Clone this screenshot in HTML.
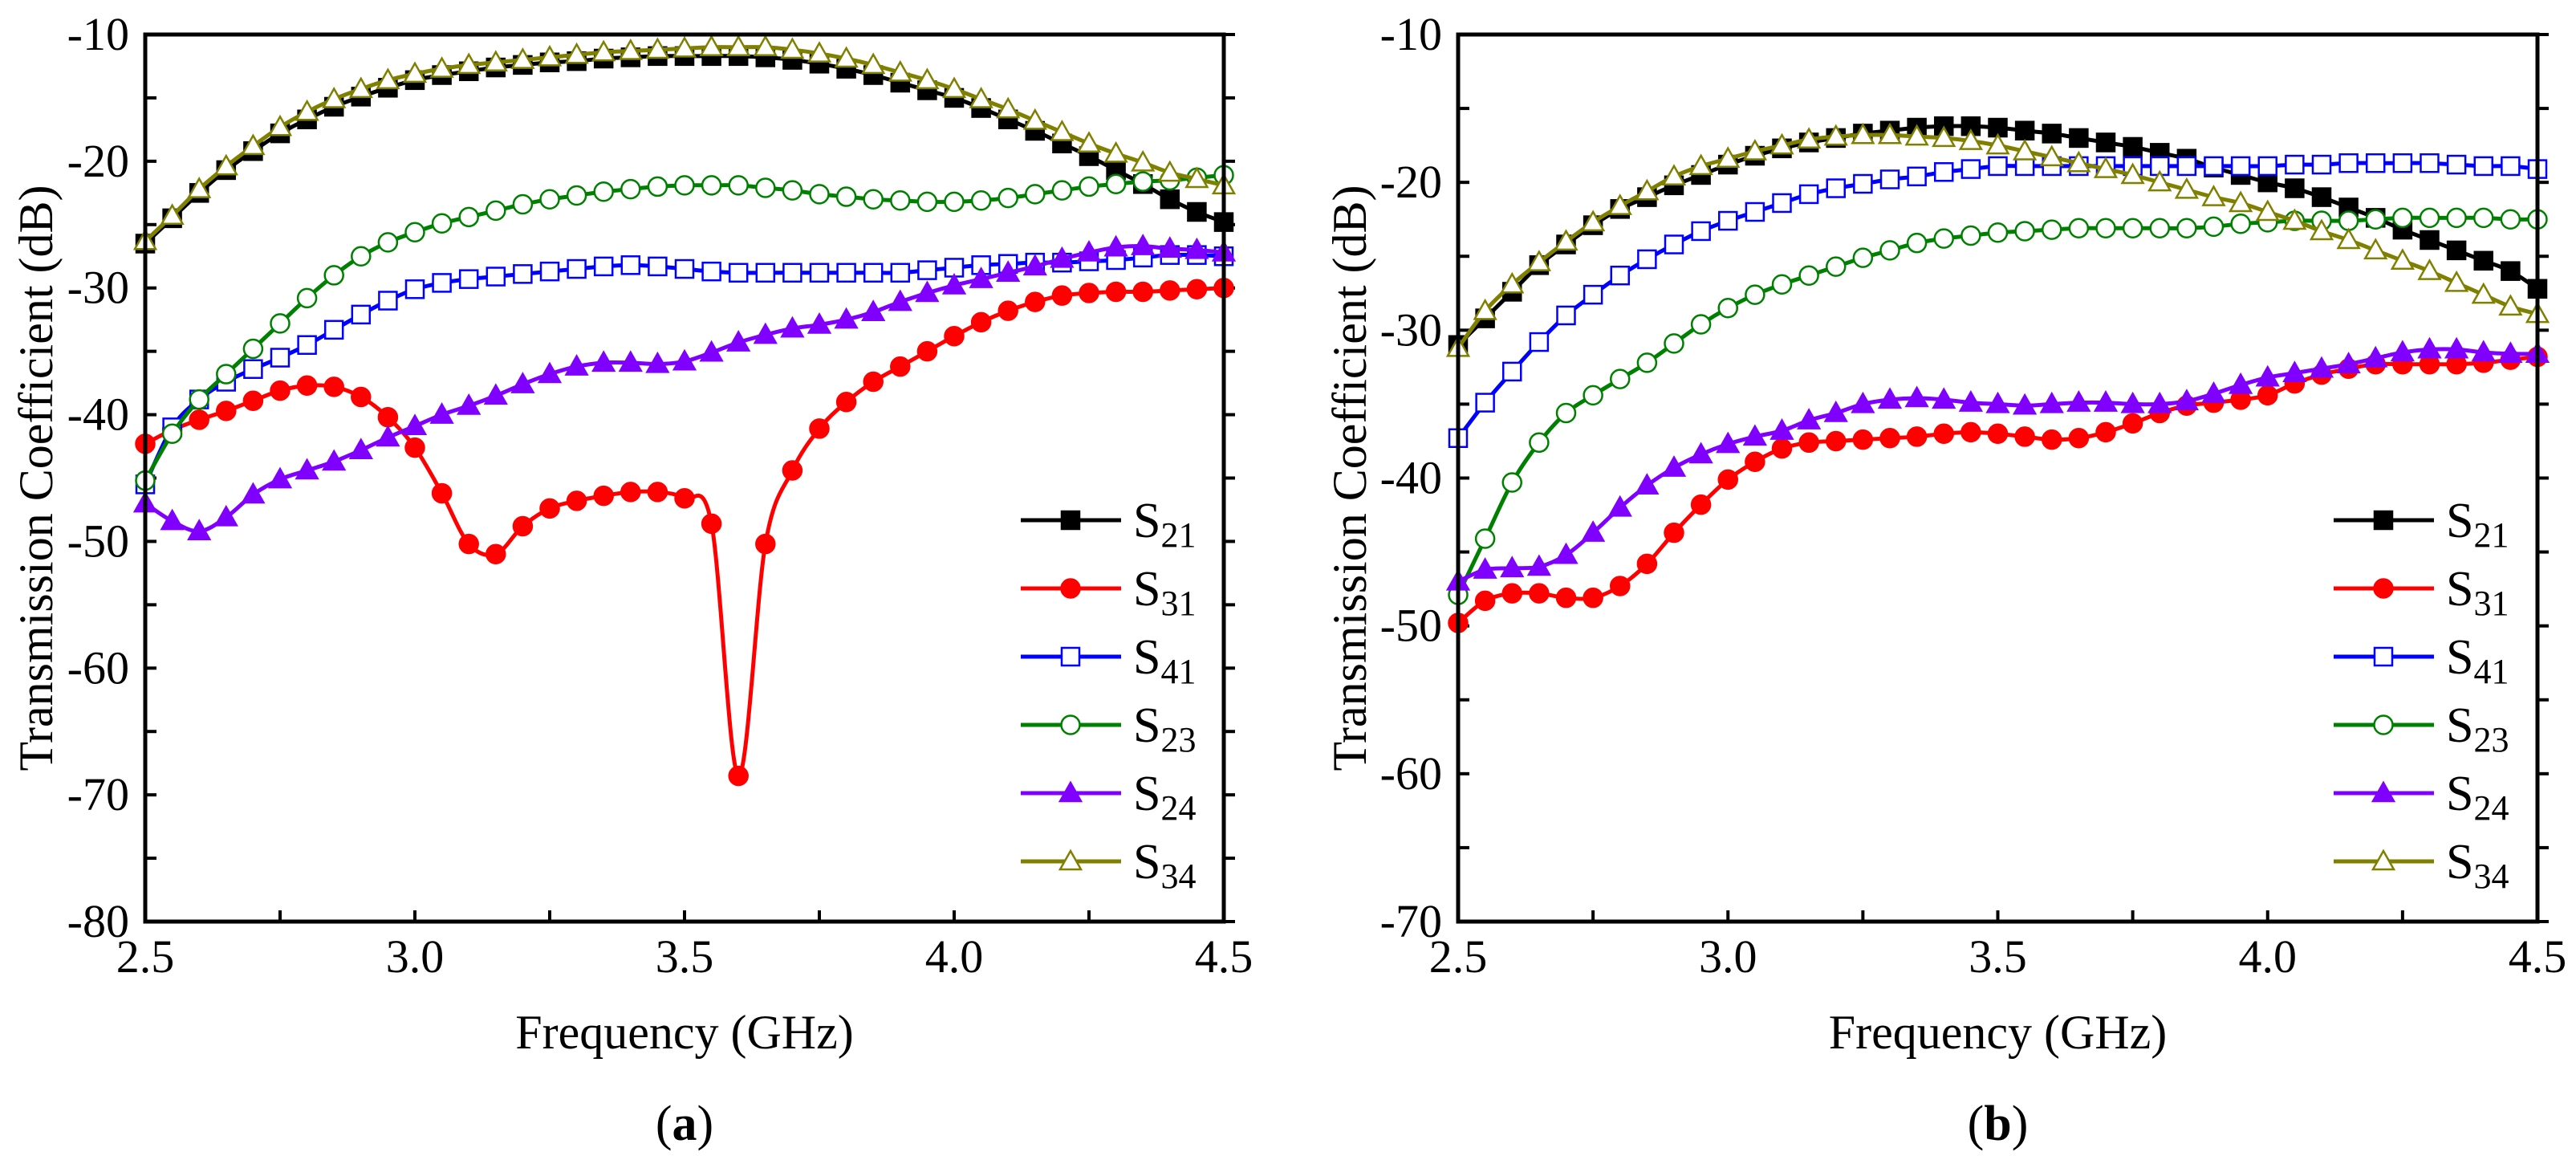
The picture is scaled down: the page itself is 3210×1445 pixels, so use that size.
<!DOCTYPE html>
<html><head><meta charset="utf-8"><style>
html,body{margin:0;padding:0;background:#fff;}
svg{display:block;}
svg text{font-family:"Liberation Serif","Times New Roman",serif;}
</style></head><body>
<svg id="fig" width="3210" height="1445" viewBox="0 0 3210 1445" xmlns="http://www.w3.org/2000/svg" font-family="Liberation Serif, serif"></svg>
<script>
const freqs = [];
for (let i = 0; i <= 40; i++) freqs.push(+(2.5 + i * 0.05).toFixed(2));
const seriesNames = ["S21","S31","S41","S23","S24","S34"];
const xTicks = [2.5,3.0,3.5,4.0,4.5];
const xTickLabels = ["2.5","3.0","3.5","4.0","4.5"];
const yTicksA = [-10,-20,-30,-40,-50,-60,-70,-80];
const yTicksB = [-10,-20,-30,-40,-50,-60,-70];

const a_S21 = [-26.5,-24.5,-22.5,-20.7,-19.2,-17.8,-16.7,-15.7,-14.9,-14.2,-13.6,-13.2,-12.9,-12.6,-12.4,-12.2,-12.1,-11.9,-11.8,-11.7,-11.7,-11.7,-11.7,-11.8,-12.0,-12.3,-12.7,-13.2,-13.8,-14.4,-15.0,-15.8,-16.7,-17.6,-18.6,-19.6,-20.7,-21.8,-23.0,-24.0,-24.8];
const a_S31 = [-42.3,-41.2,-40.4,-39.7,-38.9,-38.1,-37.7,-37.8,-38.6,-40.2,-42.6,-46.2,-50.2,-51.0,-48.8,-47.4,-46.8,-46.4,-46.1,-46.1,-46.6,-48.6,-68.5,-50.2,-44.4,-41.1,-39.0,-37.4,-36.2,-35.0,-33.8,-32.7,-31.8,-31.1,-30.6,-30.4,-30.3,-30.3,-30.2,-30.1,-30.0];
const a_S41 = [-45.5,-41.0,-38.8,-37.4,-36.4,-35.5,-34.5,-33.3,-32.1,-31.0,-30.1,-29.6,-29.3,-29.1,-28.9,-28.7,-28.5,-28.3,-28.2,-28.3,-28.5,-28.7,-28.8,-28.8,-28.8,-28.8,-28.8,-28.8,-28.8,-28.6,-28.4,-28.2,-28.1,-28.0,-28.0,-27.9,-27.8,-27.6,-27.4,-27.4,-27.5];
const a_S23 = [-45.2,-41.5,-38.8,-36.8,-34.8,-32.8,-30.8,-29.0,-27.5,-26.4,-25.6,-24.9,-24.4,-23.9,-23.4,-23.0,-22.7,-22.4,-22.2,-22.0,-21.9,-21.9,-21.9,-22.1,-22.3,-22.6,-22.8,-23.0,-23.1,-23.2,-23.2,-23.1,-22.9,-22.6,-22.3,-22.0,-21.8,-21.6,-21.5,-21.3,-21.1];
const a_S24 = [-47.0,-48.4,-49.2,-48.1,-46.3,-45.1,-44.4,-43.7,-42.8,-41.8,-40.9,-40.0,-39.3,-38.5,-37.6,-36.8,-36.2,-35.9,-35.9,-36.0,-35.8,-35.1,-34.3,-33.7,-33.2,-32.9,-32.5,-31.9,-31.1,-30.4,-29.8,-29.3,-28.8,-28.3,-27.7,-27.2,-26.8,-26.7,-26.9,-27.0,-27.2];
const a_S34 = [-26.3,-24.3,-22.2,-20.4,-18.8,-17.3,-16.1,-15.1,-14.3,-13.6,-13.1,-12.7,-12.4,-12.2,-12.0,-11.8,-11.6,-11.4,-11.3,-11.2,-11.1,-11.0,-11.0,-11.0,-11.2,-11.5,-11.9,-12.4,-13.0,-13.6,-14.3,-15.1,-15.9,-16.8,-17.7,-18.6,-19.4,-20.1,-20.9,-21.4,-21.9];

const b_S21 = [-31.0,-29.2,-27.4,-25.6,-24.2,-22.9,-21.8,-21.0,-20.2,-19.5,-18.8,-18.2,-17.7,-17.3,-17.0,-16.7,-16.5,-16.3,-16.2,-16.2,-16.3,-16.5,-16.7,-17.0,-17.3,-17.6,-18.0,-18.4,-19.0,-19.5,-20.0,-20.4,-21.0,-21.7,-22.4,-23.2,-23.9,-24.6,-25.3,-26.0,-27.2];
const b_S31 = [-49.8,-48.3,-47.8,-47.8,-48.1,-48.1,-47.3,-45.8,-43.7,-41.8,-40.1,-38.9,-38.0,-37.6,-37.5,-37.4,-37.3,-37.2,-37.0,-36.9,-37.0,-37.2,-37.4,-37.3,-36.9,-36.3,-35.6,-35.1,-34.9,-34.7,-34.4,-33.6,-33.0,-32.6,-32.3,-32.3,-32.3,-32.3,-32.2,-32.0,-31.8];
const b_S41 = [-37.3,-34.9,-32.8,-30.8,-29.0,-27.6,-26.3,-25.2,-24.2,-23.3,-22.6,-22.0,-21.4,-20.8,-20.4,-20.1,-19.8,-19.6,-19.3,-19.1,-18.9,-18.9,-18.9,-18.9,-18.9,-18.9,-18.9,-18.9,-18.9,-18.9,-18.9,-18.8,-18.8,-18.7,-18.7,-18.7,-18.7,-18.8,-18.9,-18.9,-19.1];
const b_S23 = [-47.9,-44.1,-40.3,-37.6,-35.6,-34.4,-33.3,-32.2,-30.9,-29.6,-28.5,-27.6,-26.9,-26.3,-25.7,-25.1,-24.6,-24.1,-23.8,-23.6,-23.4,-23.3,-23.2,-23.1,-23.1,-23.1,-23.1,-23.1,-23.0,-22.8,-22.7,-22.6,-22.6,-22.6,-22.5,-22.4,-22.4,-22.4,-22.4,-22.5,-22.5];
const b_S24 = [-47.0,-46.2,-46.1,-46.0,-45.2,-43.7,-42.0,-40.5,-39.3,-38.4,-37.7,-37.2,-36.8,-36.1,-35.6,-35.0,-34.7,-34.6,-34.7,-34.9,-35.0,-35.1,-35.0,-34.9,-34.9,-35.0,-35.0,-34.8,-34.3,-33.7,-33.2,-32.9,-32.6,-32.3,-31.9,-31.5,-31.3,-31.3,-31.5,-31.6,-31.6];
const b_S34 = [-31.2,-28.7,-26.9,-25.4,-24.0,-22.7,-21.6,-20.6,-19.6,-18.9,-18.4,-17.9,-17.5,-17.1,-16.9,-16.8,-16.8,-16.9,-17.0,-17.2,-17.5,-17.9,-18.3,-18.7,-19.1,-19.5,-20.0,-20.5,-21.0,-21.4,-22.0,-22.6,-23.3,-23.9,-24.6,-25.3,-26.0,-26.8,-27.6,-28.4,-28.9];

const NS = "http://www.w3.org/2000/svg";
const svg = document.getElementById("fig");
const FONT = "Liberation Serif, Times New Roman, serif";
const styles = [
 {c:"#000000", m:"square", fill:true},
 {c:"#ff0000", m:"circle", fill:true},
 {c:"#0000ff", m:"square", fill:false},
 {c:"#008000", m:"circle", fill:false},
 {c:"#8000ff", m:"tri", fill:true},
 {c:"#808000", m:"tri", fill:false}
];
function el(tag, attrs, parent){
  const e = document.createElementNS(NS, tag);
  for (const k in attrs) e.setAttribute(k, attrs[k]);
  if (tag === "text") e.setAttribute("font-family", FONT);
  (parent||svg).appendChild(e);
  return e;
}
function marker(g, m, x, y, st){
  let e;
  const fill = st.fill ? st.c : "#fff";
  if (m==="square") e = el("rect",{x:x-11,y:y-11,width:22,height:22,fill:fill,stroke:st.c,"stroke-width":2.5},g);
  else if (m==="circle") e = el("circle",{cx:x,cy:y,r:11.5,fill:fill,stroke:st.c,"stroke-width":2.5},g);
  else e = el("polygon",{points:`${x},${y-13} ${x+13},${y+10} ${x-13},${y+10}`,fill:fill,stroke:st.c,"stroke-width":2.5},g);
  return e;
}
function smoothPath(pts){
  let d = `M${pts[0][0]},${pts[0][1]}`;
  for (let i=0;i<pts.length-1;i++){
    const p0=pts[Math.max(0,i-1)],p1=pts[i],p2=pts[i+1],p3=pts[Math.min(pts.length-1,i+2)];
    const c1x=p1[0]+(p2[0]-p0[0])/6,c1y=p1[1]+(p2[1]-p0[1])/6;
    const c2x=p2[0]-(p3[0]-p1[0])/6,c2y=p2[1]-(p3[1]-p1[1])/6;
    d+=` C${c1x},${c1y} ${c2x},${c2y} ${p2[0]},${p2[1]}`;
  }
  return d;
}
function panel(cfg){
  const {x0,x1,y0,y1,ymax,ymin,yTicks,data,tag,caption,legX} = cfg;
  const X = f => x0 + (f-2.5)/(4.5-2.5)*(x1-x0);
  const Y = v => y0 + (ymax-v)/(ymax-ymin)*(y1-y0);
  const g = el("g",{});
  
  
  for (let v=ymax; v>=ymin; v-=5){
    el("line",{x1:x0,x2:x0+14,y1:Y(v),y2:Y(v),stroke:"#000","stroke-width":4},g);
    el("line",{x1:x1,x2:x1+14,y1:Y(v),y2:Y(v),stroke:"#000","stroke-width":4},g);
  }
  for (let f=2.5; f<=4.501; f+=0.25){
    el("line",{x1:X(f),x2:X(f),y1:y1,y2:y1-14,stroke:"#000","stroke-width":4},g);
  }
  yTicks.forEach(v=>{
    const t = el("text",{x:x0-20,y:Y(v)+19,"text-anchor":"end","font-size":58},g);
    t.textContent = String(v);
    
    
  });
  xTicks.forEach((f,i)=>{
    const t = el("text",{x:X(f),y:y1+63,"text-anchor":"middle","font-size":58},g);
    t.textContent = xTickLabels[i];
    
    
  });
  data.forEach((vals,si)=>{
    const st = styles[si];
    const sg = el("g",{},g);
    
    
    const pts = vals.map((v,i)=>[X(freqs[i]),Y(v)]);
    el("path",{d:smoothPath(pts),fill:"none",stroke:st.c,"stroke-width":5},sg);
    pts.forEach(p=>{
      const m = marker(sg, st.m, p[0], p[1], st);
      
      
    });
  });
  const fr = el("rect",{x:x0,y:y0,width:x1-x0,height:y1-y0,fill:"none",stroke:"#000","stroke-width":5},g);
  
  
  const lg = el("g",{},g);
  
  
  seriesNames.forEach((n,i)=>{
    const st = styles[i];
    const ly = 648 + i*85;
    const eg = el("g",{},lg);
    
    
    el("line",{x1:legX,x2:legX+125,y1:ly,y2:ly,stroke:st.c,"stroke-width":5},eg);
    marker(eg, st.m, legX+62, ly, st);
    const t = el("text",{x:legX+140,y:ly+21,"font-size":62},eg);
    const s1 = el("tspan",{},t); s1.textContent = "S";
    const s2 = el("tspan",{dy:12,"font-size":44},t); s2.textContent = n.slice(1);
  });
  const xt = el("text",{x:(x0+x1)/2,y:1306,"text-anchor":"middle","font-size":60},g);
  xt.textContent = "Frequency (GHz)";
  
  
  const ycx = cfg.ytx, ycy = (y0+y1)/2;
  const yt = el("text",{x:ycx,y:ycy,"text-anchor":"middle","font-size":60,transform:`rotate(-90 ${ycx} ${ycy})`,dy:20},g);
  yt.textContent = "Transmission Coefficient (dB)";
  
  
  const cp = el("text",{x:(x0+x1)/2,y:1420,"text-anchor":"middle","font-size":62},g);
  const c1 = el("tspan",{},cp); c1.textContent="(";
  const c2 = el("tspan",{"font-weight":"bold"},cp); c2.textContent=caption;
  const c3 = el("tspan",{},cp); c3.textContent=")";
  
  
}
panel({x0:181,x1:1525,y0:43,y1:1148,ymax:-10,ymin:-80,yTicks:yTicksA,
  data:[a_S21,a_S31,a_S41,a_S23,a_S24,a_S34],tag:"a",caption:"a",legX:1272,ytx:45});
panel({x0:1817,x1:3162,y0:43,y1:1148,ymax:-10,ymin:-70,yTicks:yTicksB,
  data:[b_S21,b_S31,b_S41,b_S23,b_S24,b_S34],tag:"b",caption:"b",legX:2908,ytx:1682});
</script>
</body></html>
